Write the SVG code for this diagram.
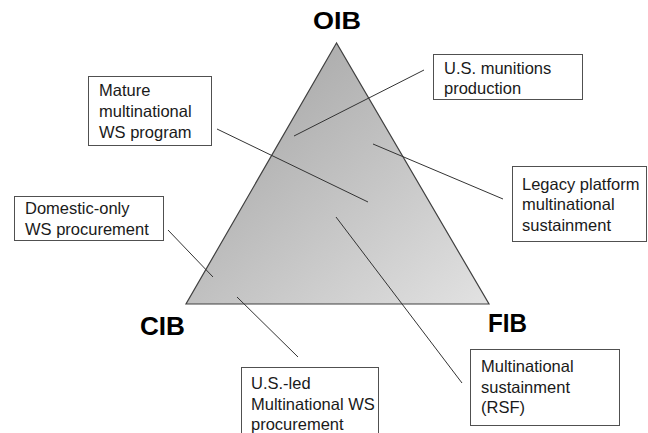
<svg xmlns="http://www.w3.org/2000/svg" width="648" height="433" viewBox="0 0 648 433">
  <defs>
    <linearGradient id="triFill" x1="0" y1="0" x2="1" y2="1">
      <stop offset="0" stop-color="#9e9e9e"/>
      <stop offset="1" stop-color="#e2e2e2"/>
    </linearGradient>
    <style>
      .box rect { fill: #ffffff; stroke: #505050; stroke-width: 1; }
      .box text { font-family: "Liberation Sans", Arial, sans-serif; font-size: 16.5px; fill: #1a1a1a; }
      .corner { font-family: "Liberation Sans", Arial, sans-serif; font-weight: bold; fill: #000000; }
      .leader line { stroke: #333333; stroke-width: 1; }
    </style>
  </defs>
  <rect width="648" height="433" fill="#ffffff"/>

  <!-- triangle -->
  <g id="triangle">
    <polygon points="336.5,43 186,304 489,304" fill="url(#triFill)" stroke="#404040" stroke-width="1.2"/>
  </g>

  <!-- corner labels -->
  <g id="label-oib"><text class="corner" x="313" y="29" font-size="23" textLength="48" lengthAdjust="spacingAndGlyphs">OIB</text></g>
  <g id="label-cib"><text class="corner" x="140" y="335" font-size="25" textLength="45" lengthAdjust="spacingAndGlyphs">CIB</text></g>
  <g id="label-fib"><text class="corner" x="488" y="332" font-size="25" textLength="39" lengthAdjust="spacingAndGlyphs">FIB</text></g>

  <!-- leader lines -->
  <g id="connectors" class="leader">
    <line x1="424" y1="70" x2="294" y2="136"/>
    <line x1="217" y1="129" x2="368" y2="202"/>
    <line x1="373" y1="144" x2="503" y2="199"/>
    <line x1="336" y1="217" x2="462" y2="383"/>
    <line x1="168" y1="230" x2="213" y2="277"/>
    <line x1="237" y1="297" x2="298" y2="357"/>
  </g>

  <!-- callout boxes -->
  <g id="box-munitions" class="box">
    <rect x="433.5" y="54.5" width="149" height="45"/>
    <text x="444" y="74">U.S. munitions</text>
    <text x="444" y="94">production</text>
  </g>
  <g id="box-mature" class="box">
    <rect x="88.5" y="76.5" width="123" height="69"/>
    <text x="99" y="96">Mature</text>
    <text x="99" y="117">multinational</text>
    <text x="99" y="138">WS program</text>
  </g>
  <g id="box-legacy" class="box">
    <rect x="512.5" y="166.5" width="134" height="75"/>
    <text x="522" y="190">Legacy platform</text>
    <text x="522" y="210">multinational</text>
    <text x="522" y="231">sustainment</text>
  </g>
  <g id="box-domestic" class="box">
    <rect x="14.5" y="196.5" width="149" height="44"/>
    <text x="25" y="214">Domestic-only</text>
    <text x="25" y="235">WS procurement</text>
  </g>
  <g id="box-usled" class="box">
    <rect x="241.5" y="367.5" width="137" height="70"/>
    <text x="251" y="389">U.S.-led</text>
    <text x="251" y="410">Multinational WS</text>
    <text x="251" y="430">procurement</text>
  </g>
  <g id="box-rsf" class="box">
    <rect x="470.5" y="349.5" width="149" height="76"/>
    <text x="481" y="372">Multinational</text>
    <text x="481" y="393">sustainment</text>
    <text x="481" y="413">(RSF)</text>
  </g>
</svg>
